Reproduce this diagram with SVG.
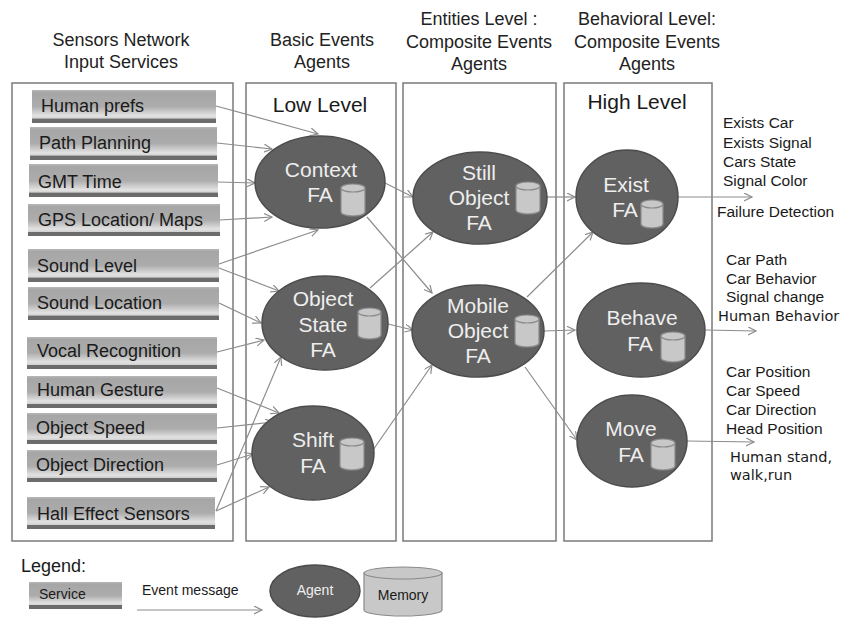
<svg xmlns="http://www.w3.org/2000/svg" xmlns:xlink="http://www.w3.org/1999/xlink" width="854" height="618" viewBox="0 0 854 618">
  <defs>
    <linearGradient id="svcFill" x1="0" y1="0" x2="0" y2="1">
      <stop offset="0" stop-color="#b8b8b8"/>
      <stop offset="0.08" stop-color="#a6a6a6"/>
      <stop offset="0.5" stop-color="#acacac"/>
      <stop offset="0.78" stop-color="#e2e2e2"/>
      <stop offset="0.86" stop-color="#d2d2d2"/>
      <stop offset="0.87" stop-color="#6c6c6c"/>
      <stop offset="1" stop-color="#6c6c6c"/>
    </linearGradient>
    <marker id="arrow" markerUnits="userSpaceOnUse" markerWidth="10" markerHeight="10" refX="8" refY="4" orient="auto">
      <path d="M0,0 L8,4 L0,8" fill="none" stroke="#8c8c8c" stroke-width="1.2"/>
    </marker>
  </defs>
  <style>
    .hdr { font-family: "Liberation Sans", Arial, sans-serif; font-size: 18px; fill: #222; text-anchor: middle; }
    .lvl { font-family: "Liberation Sans", Arial, sans-serif; font-size: 21px; fill: #1a1a1a; text-anchor: middle; }
    .panel { fill: #fff; stroke: #7a7a7a; stroke-width: 1.5; }
    .svc { fill: url(#svcFill); }
    .svct { font-family: "Liberation Sans", Arial, sans-serif; font-size: 18px; fill: #1a1a1a; }
    .agent { fill: #616161; stroke: #4c4c4c; stroke-width: 1.5; }
    .agt { font-family: "Liberation Sans", Arial, sans-serif; font-size: 21px; fill: #eeeeee; text-anchor: middle; }
    .cyl { fill: #c8c8c8; stroke: #8a8a8a; stroke-width: 1.2; }
    .out { font-family: "Liberation Sans", Arial, sans-serif; font-size: 15.5px; fill: #1a1a1a; }
    .out2 { font-family: "DejaVu Sans", Verdana, sans-serif; font-size: 14.5px; fill: #1a1a1a; }
    .conn path { fill: none; stroke: #8c8c8c; stroke-width: 1.2; marker-end: url(#arrow); }
    .leg { font-family: "Liberation Sans", Arial, sans-serif; font-size: 14px; fill: #1a1a1a; }
  </style>

  <rect width="854" height="618" fill="#ffffff"/>

  <!-- column headings -->
  <g id="headings">
    <text class="hdr" x="121" y="46">Sensors Network</text>
    <text class="hdr" x="121" y="68">Input Services</text>
    <text class="hdr" x="322" y="46">Basic Events</text>
    <text class="hdr" x="322" y="68">Agents</text>
    <text class="hdr" x="479" y="25">Entities Level :</text>
    <text class="hdr" x="479" y="48">Composite Events</text>
    <text class="hdr" x="479" y="70">Agents</text>
    <text class="hdr" x="647" y="25">Behavioral Level:</text>
    <text class="hdr" x="647" y="48">Composite Events</text>
    <text class="hdr" x="647" y="70">Agents</text>
  </g>

  <!-- column panels -->
  <g id="panels">
    <rect class="panel" x="12" y="83" width="221" height="458"/>
    <rect class="panel" x="246" y="83" width="150" height="458"/>
    <rect class="panel" x="403" y="83" width="153" height="458"/>
    <rect class="panel" x="564" y="83" width="148" height="458"/>
    <text class="lvl" x="320" y="112">Low Level</text>
    <text class="lvl" x="637" y="109">High Level</text>
  </g>

  <!-- input services -->
  <g id="svc-human-prefs"><rect class="svc" x="32" y="90" width="184" height="33"/><text class="svct" x="41" y="112">Human prefs</text></g>
  <g id="svc-path-planning"><rect class="svc" x="30" y="127" width="187" height="33"/><text class="svct" x="39" y="149">Path Planning</text></g>
  <g id="svc-gmt-time"><rect class="svc" x="29" y="164" width="189" height="33"/><text class="svct" x="38" y="188">GMT Time</text></g>
  <g id="svc-gps"><rect class="svc" x="28" y="204" width="192" height="32"/><text class="svct" x="38" y="226">GPS Location/ Maps</text></g>
  <g id="svc-sound-level"><rect class="svc" x="28" y="249" width="191" height="33"/><text class="svct" x="37" y="272">Sound Level</text></g>
  <g id="svc-sound-location"><rect class="svc" x="28" y="287" width="191" height="33"/><text class="svct" x="37" y="309">Sound Location</text></g>
  <g id="svc-vocal"><rect class="svc" x="27" y="337" width="190" height="32"/><text class="svct" x="37" y="357">Vocal Recognition</text></g>
  <g id="svc-gesture"><rect class="svc" x="27" y="376" width="190" height="32"/><text class="svct" x="37" y="396">Human Gesture</text></g>
  <g id="svc-speed"><rect class="svc" x="27" y="413" width="190" height="31"/><text class="svct" x="36" y="434">Object Speed</text></g>
  <g id="svc-direction"><rect class="svc" x="27" y="450" width="190" height="32"/><text class="svct" x="36" y="471">Object Direction</text></g>
  <g id="svc-hall"><rect class="svc" x="27" y="497" width="188" height="32"/><text class="svct" x="37" y="520">Hall Effect Sensors</text></g>

  <!-- connectors -->
  <g id="connectors" class="conn">
    <path d="M216,106 L318,134"/>
    <path d="M217,143 L272,149"/>
    <path d="M218,182 L255,183"/>
    <path d="M220,220 L272,217"/>
    <path d="M219,264 L318,230"/>
    <path d="M219,268 L279,291"/>
    <path d="M219,303 L261,323"/>
    <path d="M217,352 L264,340"/>
    <path d="M217,388 L279,413"/>
    <path d="M217,428 L273,422"/>
    <path d="M217,465 L253,454"/>
    <path d="M216,511 L269,487"/>
    <path d="M216,511 L281,357"/>
    <path d="M385,183 L413,197"/>
    <path d="M367,217 L432,293"/>
    <path d="M370,288 L433,232"/>
    <path d="M388,324 L413,330"/>
    <path d="M373,450 L432,365"/>
    <path d="M546,197 L575,197"/>
    <path d="M527,297 L593,232"/>
    <path d="M544,331 L575,330"/>
    <path d="M525,367 L577,440"/>
    <path d="M678,197 L752,197"/>
    <path d="M706,330 L756,331"/>
    <path d="M687,441 L754,442"/>
    <path d="M137,610 L262,610"/>
  </g>

  <!-- agents -->
  <g id="agent-context">
    <ellipse class="agent" cx="320" cy="182" rx="65" ry="46"/>
    <text class="agt" x="321" y="177">Context</text>
    <text class="agt" x="320" y="202">FA</text>
    <path class="cyl" d="M341,188 v24 a12,4 0 0 0 24,0 v-24 Z"/>
    <ellipse class="cyl" cx="353" cy="188" rx="12" ry="4"/>
  </g>
  <g id="agent-object-state">
    <ellipse class="agent" cx="325" cy="323" rx="63" ry="47"/>
    <text class="agt" x="323" y="306">Object</text>
    <text class="agt" x="323" y="332">State</text>
    <text class="agt" x="323" y="357">FA</text>
    <path class="cyl" d="M358,312 v23 a11.5,4 0 0 0 23,0 v-23 Z"/>
    <ellipse class="cyl" cx="369.5" cy="312" rx="11.5" ry="4"/>
  </g>
  <g id="agent-shift">
    <ellipse class="agent" cx="313" cy="453" rx="61" ry="47"/>
    <text class="agt" x="313" y="447">Shift</text>
    <text class="agt" x="313" y="473">FA</text>
    <path class="cyl" d="M340,442 v24 a12,4 0 0 0 24,0 v-24 Z"/>
    <ellipse class="cyl" cx="352" cy="442" rx="12" ry="4"/>
  </g>
  <g id="agent-still-object">
    <ellipse class="agent" cx="480" cy="198" rx="67" ry="46"/>
    <text class="agt" x="479" y="180">Still</text>
    <text class="agt" x="479" y="205">Object</text>
    <text class="agt" x="479" y="230">FA</text>
    <path class="cyl" d="M516,186 v24 a12,4 0 0 0 24,0 v-24 Z"/>
    <ellipse class="cyl" cx="528" cy="186" rx="12" ry="4"/>
  </g>
  <g id="agent-mobile-object">
    <ellipse class="agent" cx="478" cy="331" rx="66" ry="46"/>
    <text class="agt" x="478" y="313">Mobile</text>
    <text class="agt" x="478" y="338">Object</text>
    <text class="agt" x="478" y="363">FA</text>
    <path class="cyl" d="M515,319 v24 a12,4 0 0 0 24,0 v-24 Z"/>
    <ellipse class="cyl" cx="527" cy="319" rx="12" ry="4"/>
  </g>
  <g id="agent-exist">
    <ellipse class="agent" cx="627" cy="197" rx="51" ry="47"/>
    <text class="agt" x="626" y="192">Exist</text>
    <text class="agt" x="625" y="217">FA</text>
    <path class="cyl" d="M641,204 v20 a11,4 0 0 0 22,0 v-20 Z"/>
    <ellipse class="cyl" cx="652" cy="204" rx="11" ry="4"/>
  </g>
  <g id="agent-behave">
    <ellipse class="agent" cx="641" cy="330" rx="64" ry="47"/>
    <text class="agt" x="642" y="325">Behave</text>
    <text class="agt" x="640" y="351">FA</text>
    <path class="cyl" d="M661,336 v22 a12,4 0 0 0 24,0 v-22 Z"/>
    <ellipse class="cyl" cx="673" cy="336" rx="12" ry="4"/>
  </g>
  <g id="agent-move">
    <ellipse class="agent" cx="632" cy="441" rx="55" ry="46"/>
    <text class="agt" x="631" y="436">Move</text>
    <text class="agt" x="631" y="462">FA</text>
    <path class="cyl" d="M651,443 v23 a12,4 0 0 0 24,0 v-23 Z"/>
    <ellipse class="cyl" cx="663" cy="443" rx="12" ry="4"/>
  </g>

  <!-- output events -->
  <g id="out-exist">
    <text class="out" x="723" y="128">Exists Car</text>
    <text class="out" x="723" y="148">Exists Signal</text>
    <text class="out" x="723" y="167">Cars State</text>
    <text class="out" x="723" y="186">Signal Color</text>
    <text class="out" x="717" y="217">Failure Detection</text>
  </g>
  <g id="out-behave">
    <text class="out" x="726" y="265">Car Path</text>
    <text class="out" x="726" y="284">Car Behavior</text>
    <text class="out" x="726" y="302">Signal change</text>
    <text class="out2" x="718" y="321">Human Behavior</text>
  </g>
  <g id="out-move">
    <text class="out" x="726" y="377">Car Position</text>
    <text class="out" x="726" y="396">Car Speed</text>
    <text class="out" x="726" y="415">Car Direction</text>
    <text class="out" x="726" y="434">Head Position</text>
    <text class="out2" x="730" y="462">Human stand,</text>
    <text class="out2" x="730" y="480">walk,run</text>
  </g>

  <!-- legend -->
  <g id="legend">
    <text x="21" y="572" font-family="Liberation Sans, Arial, sans-serif" font-size="18" fill="#1a1a1a">Legend:</text>
    <rect class="svc" x="29" y="582" width="93" height="27"/>
    <text class="leg" x="39" y="599">Service</text>
    <text class="leg" x="142" y="595">Event message</text>
    <ellipse class="agent" cx="315" cy="591" rx="45" ry="26"/>
    <text class="leg" x="315" y="595" text-anchor="middle" style="fill:#eeeeee">Agent</text>
    <path class="cyl" d="M364,573 v37 a39,6 0 0 0 78,0 v-37 Z"/>
    <ellipse class="cyl" cx="403" cy="573" rx="39" ry="6"/>
    <text class="leg" x="403" y="600" text-anchor="middle">Memory</text>
  </g>
</svg>
